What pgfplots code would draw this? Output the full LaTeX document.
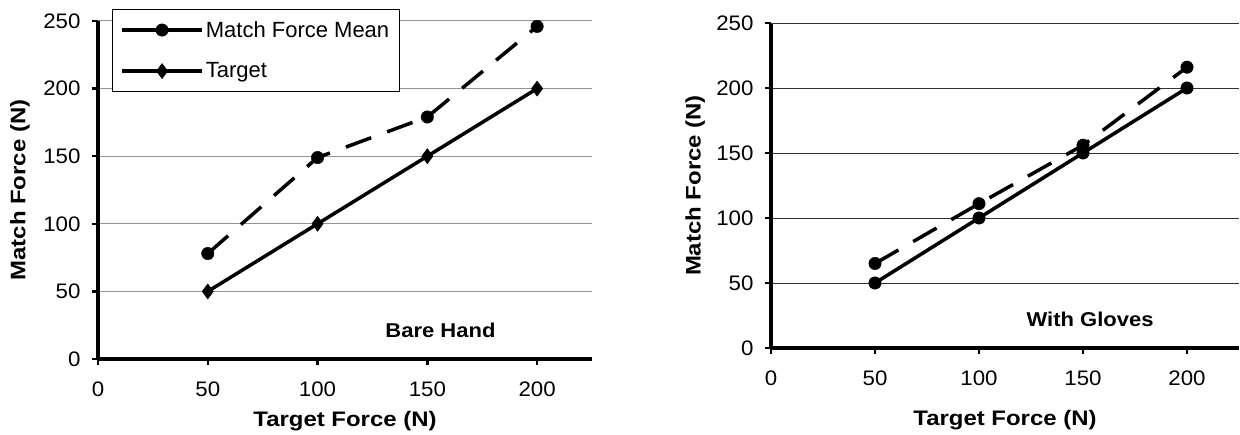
\documentclass[border=0pt]{standalone}
\usepackage{fontspec}
\setmainfont{Liberation Sans}
\newfontfamily\tickfont{Liberation Sans}[FakeStretch=1.06]
\newfontfamily\labfont{Liberation Sans}[FakeStretch=1.14]
\newfontfamily\annfont{Liberation Sans}[FakeStretch=1.1]
\usepackage{pgfplots}
\pgfplotsset{compat=1.18}
\begin{document}
\begin{tikzpicture}[x=1pt,y=1pt]
\path[use as bounding box] (0,0) rectangle (1240,435);
\pgfplotsset{
 mystyle/.style={
  scale only axis,
  xmin=0,xmax=225,ymin=0,ymax=250,
  xtick={0,50,100,150,200},
  axis x line*=bottom, axis y line*=left,
  axis line style={line width=3.5pt, -},
  tick align=outside,
  major tick length=6pt,
  tick style={line width=2.5pt, black},
  ymajorgrids,
  /pgf/number format/assume math mode=true,
  tick label style={font=\tickfont\fontsize{21}{24}\selectfont},
  xticklabel style={yshift=-13pt},
  yticklabel style={xshift=-8pt},
  clip=false,
  every axis plot/.append style={black, line width=3.5pt},
 }
}
% ---------------- Left: Bare Hand ----------------
\begin{axis}[mystyle,
  at={(98pt,76pt)}, anchor=south west, width=494pt, height=338pt,
  ytick={0,50,...,250},
  major grid style={gray!85, line width=1pt},
  xlabel={Target Force (N)}, ylabel={Match Force (N)},
  every axis x label/.style={at={(axis description cs:0.5,-0.185)}, anchor=center, font=\labfont\fontsize{21}{25}\selectfont\bfseries},
  every axis y label/.style={at={(axis description cs:-0.158,0.5)}, rotate=90, anchor=center, font=\labfont\fontsize{21}{25}\selectfont\bfseries},
  legend style={at={(0.028,1.036)}, anchor=north west, draw=black, line width=1pt,
    font=\fontsize{22}{26}\selectfont, row sep=20pt, inner xsep=8pt, inner ysep=10pt,
    /tikz/every even column/.append style={column sep=6pt}},
  legend cell align=left,
  legend image code/.code={\draw[mark repeat=2,mark phase=2,#1,solid] plot coordinates {(0pt,0pt)(40pt,0pt)(80pt,0pt)};},
]
\addplot[dash pattern=on 27pt off 17pt, mark=*, mark size=6.2pt, mark options={solid, line width=0.5pt}]
  coordinates {(50,78) (100,149) (150,179) (200,246)};
\addlegendentry{Match Force Mean}
\addplot[mark=diamond*, mark size=7.5pt, mark options={solid, line width=0.5pt}]
  coordinates {(50,50) (100,100) (150,150) (200,200)};
\addlegendentry{Target}
\node[font=\annfont\fontsize{20}{24}\selectfont\bfseries] at (axis cs:156,21.5) {Bare Hand};
\end{axis}
% ---------------- Right: With Gloves ----------------
\begin{axis}[mystyle,
  at={(771pt,87pt)}, anchor=south west, width=468pt, height=325pt,
  ytick={0,50,...,200},
  extra y ticks={250},
  extra y tick style={grid style={gray!85, line width=1pt}},
  major grid style={black!80, line width=0.9pt},
  xlabel={Target Force (N)}, ylabel={Match Force (N)},
  every axis x label/.style={at={(axis description cs:0.5,-0.222)}, anchor=center, font=\labfont\fontsize{21}{25}\selectfont\bfseries},
  every axis y label/.style={at={(axis description cs:-0.162,0.5)}, rotate=90, anchor=center, font=\labfont\fontsize{21}{25}\selectfont\bfseries},
]
\addplot[dash pattern=on 27pt off 17pt, mark=*, mark size=6.2pt, mark options={solid, line width=0.5pt}]
  coordinates {(50,65) (100,111) (150,156) (200,216)};
\addplot[mark=*, mark size=6.2pt, mark options={solid, line width=0.5pt}]
  coordinates {(50,50) (100,100) (150,150) (200,200)};
\node[font=\annfont\fontsize{20}{24}\selectfont\bfseries] at (axis cs:153.4,22.3) {With Gloves};
\end{axis}
\end{tikzpicture}
\end{document}
